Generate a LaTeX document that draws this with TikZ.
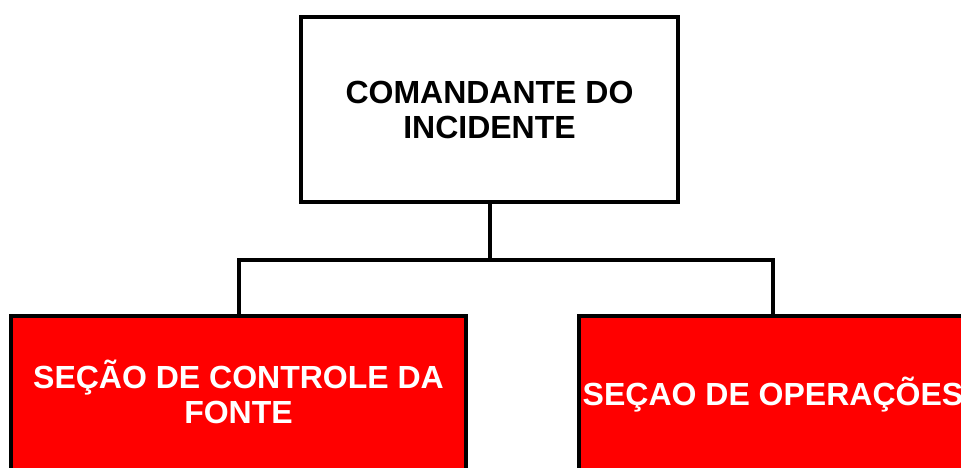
\documentclass[tikz,border=0pt]{standalone}
\usepackage{fontspec}
\setmainfont{Liberation Sans}
\begin{document}
\begin{tikzpicture}[x=1pt,y=-1pt,
  box/.style={draw=black, line width=4.5pt, rectangle, inner sep=0pt, align=center,
    font=\fontsize{32}{35}\selectfont\bfseries},
  whitebox/.style={box, fill=white, text=black},
  redbox/.style={box, fill=red, text=white},
  conn/.style={draw=black, line width=4pt}]
\useasboundingbox (0,0) rectangle (961,468);
\clip (0,0) rectangle (961,468);
\node[whitebox, minimum width=377pt, minimum height=185pt] (cmd) at (489.5,109.5)
  {COMANDANTE DO\\INCIDENTE};
\node[redbox, minimum width=455pt, minimum height=158pt] (fonte) at (238.5,395)
  {\raisebox{7pt}{SEÇÃO DE CONTROLE DA}\\\raisebox{7pt}{FONTE}};
\node[redbox, minimum width=388pt, minimum height=158pt] (oper) at (773,395)
  {\raisebox{6pt}{SEÇAO DE OPERAÇÕES}};
\draw[conn] (cmd.south) -- ++(0,56) coordinate (mid);
\draw[conn] (mid) -| (fonte.north);
\draw[conn] (mid) -| (oper.north);
\end{tikzpicture}
\end{document}
